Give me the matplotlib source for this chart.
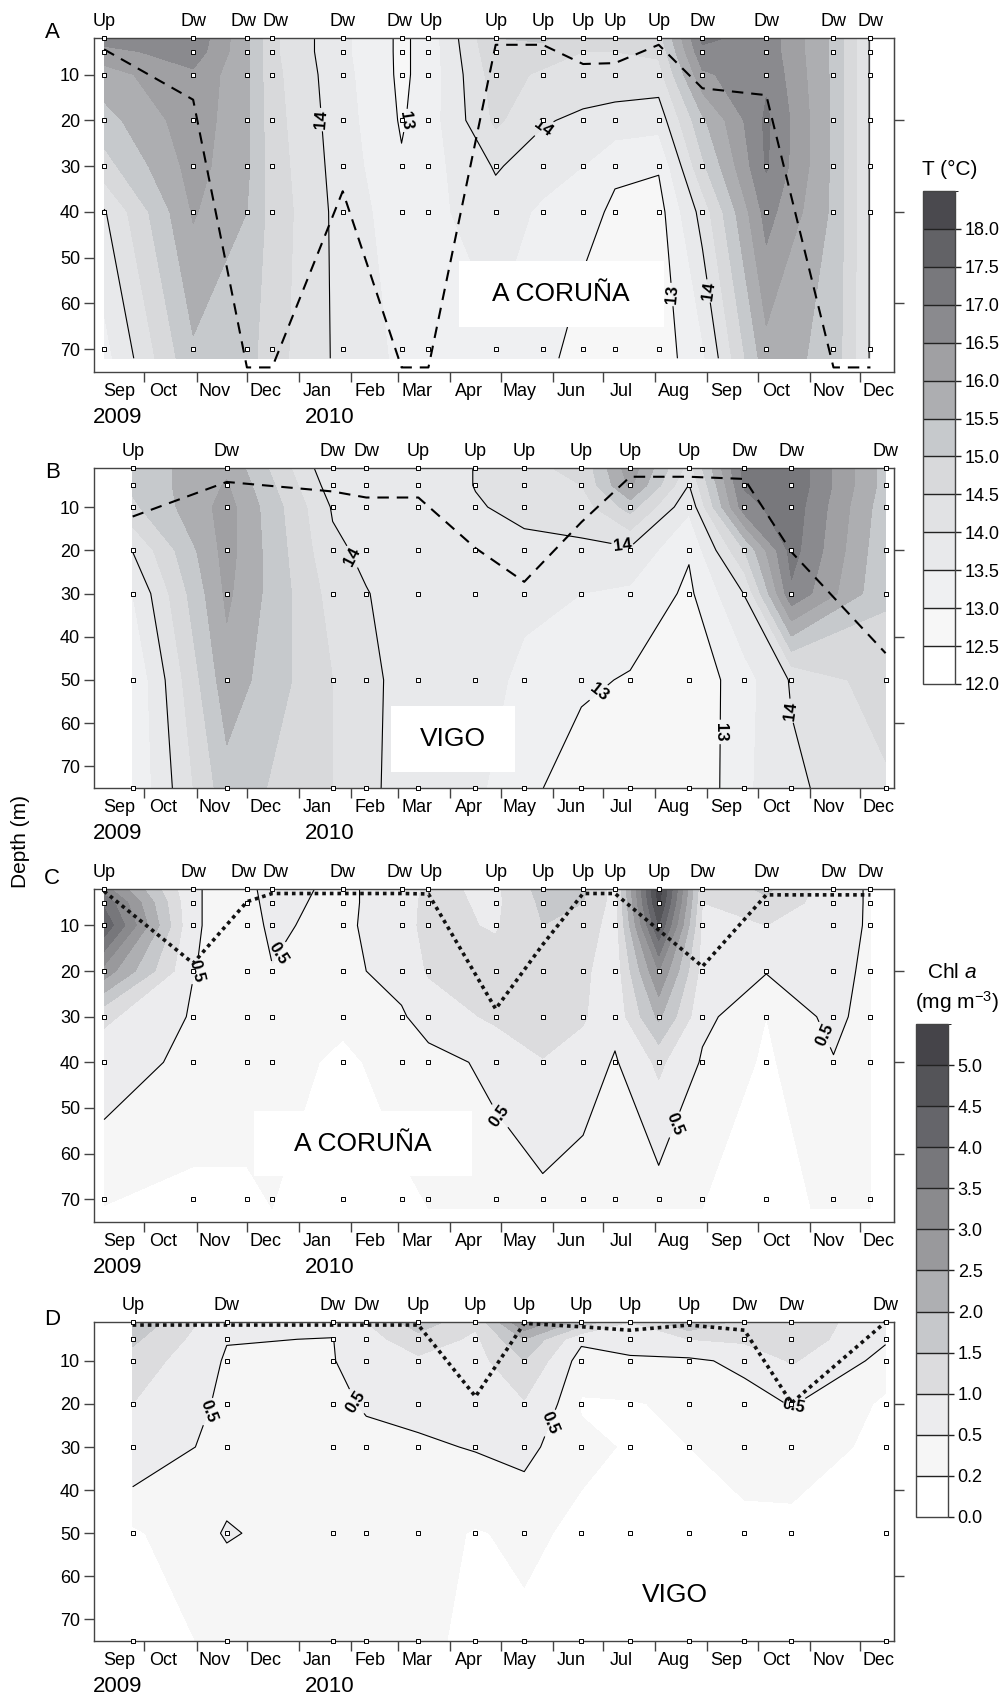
import numpy as np
import matplotlib
matplotlib.use("Agg")
import matplotlib as mpl
import matplotlib.pyplot as plt
from matplotlib.colors import ListedColormap, BoundaryNorm
from matplotlib.patches import Rectangle

plt.rcParams['font.family'] = ['Liberation Sans', 'DejaVu Sans']
plt.rcParams['mathtext.fontset'] = 'custom'
plt.rcParams['mathtext.rm'] = 'Liberation Sans'
plt.rcParams['mathtext.it'] = 'Liberation Sans:italic'

# --- sampling dates and wind regime ---
coruna_dates = ['2009-09-07', '2009-10-30', '2009-12-01', '2009-12-16', '2010-01-27', '2010-03-03',
                '2010-03-19', '2010-04-28', '2010-05-26', '2010-06-19', '2010-07-08', '2010-08-03',
                '2010-08-29', '2010-10-06', '2010-11-15', '2010-12-07']
coruna_wind = ['Up', 'Dw', 'Dw', 'Dw', 'Dw', 'Dw', 'Up', 'Up', 'Up', 'Up', 'Up', 'Up', 'Dw', 'Dw', 'Dw', 'Dw']
vigo_dates = ['2009-09-24', '2009-11-19', '2010-01-21', '2010-02-10', '2010-03-13', '2010-04-16',
              '2010-05-15', '2010-06-18', '2010-07-17', '2010-08-21', '2010-09-23', '2010-10-21',
              '2010-12-16']
vigo_wind = ['Up', 'Dw', 'Dw', 'Dw', 'Up', 'Up', 'Up', 'Up', 'Up', 'Up', 'Dw', 'Dw', 'Dw']

# --- depths (m) ---
coruna_grid_depth = [2, 5, 10, 20, 30, 40, 72]
coruna_sample_depth = [2, 5, 10, 20, 30, 40, 70]
vigo_depth = [1, 5, 10, 20, 30, 50, 75]

# --- temperature (deg C), one row per sampling date, columns = depths ---
temp_coruna = [
    [16.8, 16.3, 15.8, 15.3, 14.8, 13.95, 13.3],
    [16.9, 16.8, 16.4, 16.3, 16.2, 16.05, 15.4],
    [15.6, 15.6, 15.6, 15.6, 15.6, 15.5, 15.2],
    [14.6, 14.6, 14.65, 14.7, 14.75, 14.8, 14.7],
    [13.6, 13.6, 13.65, 13.7, 13.75, 13.8, 13.85],
    [12.9, 12.9, 12.9, 12.95, 13.05, 13.2, 13.4],
    [13.2, 13.2, 13.2, 13.25, 13.3, 13.35, 13.4],
    [15.0, 14.9, 14.75, 14.6, 14.05, 13.8, 13.4],
    [15.1, 14.8, 14.4, 14.05, 13.75, 13.4, 13.2],
    [14.6, 14.5, 14.3, 13.9, 13.5, 13.2, 12.7],
    [14.6, 14.5, 14.3, 13.8, 13.1, 12.9, 12.7],
    [14.8, 14.6, 14.3, 13.7, 13.05, 12.8, 12.7],
    [17.1, 16.9, 16.4, 15.4, 14.9, 14.2, 13.4],
    [16.8, 16.8, 16.9, 17.1, 17.05, 16.7, 15.8],
    [15.4, 15.4, 15.4, 15.4, 15.4, 15.4, 15.3],
    [13.95, 13.95, 13.95, 13.95, 13.95, 13.95, 13.95],
]
temp_vigo = [
    [15.2, 15.1, 14.9, 14.02, 13.5, 13.05, 13.05],
    [15.9, 16.05, 16.2, 16.2, 16.1, 15.8, 15.3],
    [13.6, 13.75, 13.95, 14.1, 14.3, 14.5, 14.5],
    [13.7, 13.7, 13.75, 13.9, 14.02, 14.15, 14.1],
    [13.6, 13.6, 13.7, 13.75, 13.75, 13.7, 13.75],
    [14.02, 14.02, 13.95, 13.8, 13.75, 13.7, 13.6],
    [14.4, 14.35, 14.15, 13.85, 13.6, 13.4, 13.15],
    [14.6, 14.5, 14.25, 13.9, 13.5, 13.1, 12.7],
    [16.3, 16.1, 15.2, 13.9, 13.4, 12.95, 12.7],
    [14.3, 13.98, 13.6, 13.05, 12.9, 12.6, 12.5],
    [17.2, 17.05, 16.8, 15.0, 14.02, 13.3, 13.4],
    [17.4, 17.4, 17.3, 17.2, 16.9, 14.05, 13.9],
    [15.3, 15.3, 15.2, 15.1, 15.05, 14.8, 14.4],
]

# --- chlorophyll a (mg m-3) ---
chl_coruna = [
    [3.2, 3.9, 4.4, 2.8, 1.1, 0.7, 0.19],
    [0.52, 0.52, 0.52, 0.51, 0.45, 0.4, 0.12],
    [0.4, 0.4, 0.4, 0.35, 0.3, 0.25, 0.18],
    [0.65, 0.6, 0.55, 0.49, 0.35, 0.3, 0.2],
    [0.4, 0.4, 0.4, 0.4, 0.25, 0.15, 0.15],
    [0.75, 0.75, 0.8, 0.65, 0.45, 0.3, 0.15],
    [1.1, 1.15, 1.15, 1.05, 0.7, 0.35, 0.2],
    [0.9, 0.9, 0.95, 1.2, 1.1, 0.6, 0.3],
    [1.7, 1.6, 1.5, 1.25, 1.2, 0.98, 0.35],
    [1.6, 1.5, 1.3, 1.1, 1.05, 0.8, 0.2],
    [0.8, 0.8, 0.75, 0.7, 0.65, 0.45, 0.2],
    [5.3, 5.1, 4.5, 3.0, 2.1, 1.1, 0.25],
    [1.1, 1.0, 0.9, 0.8, 0.6, 0.45, 0.2],
    [1.6, 1.4, 1.0, 0.52, 0.2, 0.15, 0.1],
    [0.7, 0.7, 0.68, 0.65, 0.6, 0.48, 0.25],
    [0.45, 0.45, 0.45, 0.4, 0.35, 0.3, 0.25],
]
chl_vigo = [
    [1.9, 1.6, 1.3, 1.0, 0.8, 0.15, 0.1],
    [0.6, 0.52, 0.45, 0.4, 0.35, 0.525, 0.25],
    [0.6, 0.49, 0.48, 0.45, 0.42, 0.35, 0.3],
    [1.0, 0.8, 0.7, 0.52, 0.45, 0.3, 0.25],
    [1.8, 1.3, 0.9, 0.6, 0.45, 0.3, 0.25],
    [1.1, 0.9, 0.8, 0.65, 0.52, 0.18, 0.15],
    [3.0, 2.0, 1.5, 0.95, 0.6, 0.25, 0.15],
    [1.8, 0.6, 0.3, 0.18, 0.25, 0.15, 0.1],
    [1.0, 0.8, 0.4, 0.18, 0.18, 0.15, 0.1],
    [2.0, 1.0, 0.42, 0.25, 0.2, 0.15, 0.1],
    [1.3, 1.1, 0.6, 0.35, 0.28, 0.15, 0.1],
    [1.4, 1.3, 1.05, 0.52, 0.35, 0.12, 0.1],
    [0.6, 0.55, 0.35, 0.15, 0.12, 0.1, 0.1],
]

# --- line depths (m): dashed in T panels, dotted in Chl panels ---
mld_coruna_t = [4.5, 15.5, 74, 74, 35.5, 74, 74, 3.5, 3.5, 7.7, 7.5, 3.5, 13, 14.5, 74, 74]
mld_vigo_t = [12.2, 4.2, 6.4, 7.8, 7.8, 19.5, 27.3, 13.5, 3.0, 3.0, 3.5, 20.4, 43.8]
dcm_coruna = [2.5, 18.3, 4.8, 3.0, 3.0, 3.0, 3.1, 28.3, 14.2, 3.0, 3.0, 11, 19, 3.3, 3.3, 3.3]
dcm_vigo = [1.7, 1.7, 1.7, 1.7, 1.7, 18.3, 1.3, 2.1, 2.9, 1.7, 2.9, 19.8, 1.0]

# --- where the isoline labels sit (days since 1 Sep 2009, depth) ---
label_spots_a = [(130, 20), (185, 20), (268, 22), (346, 58), (371, 57)]
label_spots_b = [(156, 21), (315, 18), (308, 57), (369, 62), (418, 57)]
label_spots_c = [(61, 20), (124, 19.5), (237, 53), (348, 54), (422, 36)]
label_spots_d = [(73, 22.6), (156, 19.5), (290, 27.7), (419, 21.7)]

# --- colour scales ---
t_bounds = np.arange(12.0, 18.51, 0.5)
t_ticks = np.arange(12.0, 18.01, 0.5)
t_colors = ['#ffffff', '#f7f7f7', '#eff0f2', '#e8e9eb', '#e1e2e4', '#d8d9db', '#c6c9cc',
            '#adaeb1', '#a0a0a3', '#8a8a8e', '#78787c', '#626266', '#4a494e']
chl_bounds = [0, 0.2, 0.5, 1.0, 1.5, 2.0, 2.5, 3.0, 3.5, 4.0, 4.5, 5.0, 5.5]
chl_ticks = [0, 0.2, 0.5, 1.0, 1.5, 2.0, 2.5, 3.0, 3.5, 4.0, 4.5, 5.0]
chl_colors = ['#ffffff', '#f6f6f6', '#ececee', '#dcdcde', '#c6c8cb', '#aeafb2', '#99999c',
              '#8a8a8d', '#77777b', '#65656a', '#545458', '#454449']

origin = np.datetime64('2009-09-01')
month_starts = np.arange(np.datetime64('2009-09'), np.datetime64('2011-01'), dtype='datetime64[M]')
month_names = ['Sep', 'Oct', 'Nov', 'Dec', 'Jan', 'Feb', 'Mar', 'Apr', 'May', 'Jun', 'Jul', 'Aug',
               'Sep', 'Oct', 'Nov', 'Dec']
year_labels = ['2009', '2010']
year_label_dates = ['2009-09-15', '2010-01-19']
SPINE = '#444444'


def to_days(dates):
    return (np.array(dates, dtype='datetime64[D]') - origin).astype(float)


def spread(pos, min_gap=19.0):
    # nudge neighbouring Up/Dw labels apart so they do not touch
    pos = list(pos)
    for i in range(len(pos) - 1):
        gap = pos[i + 1] - pos[i]
        if gap < min_gap:
            shift = (min_gap - gap) / 2
            pos[i] -= shift
            pos[i + 1] += shift
    return pos


def draw_panel(ax, dates, grid_depth, sample_depth, values, bounds, colors, line_levels,
               spots, line_depth, line_style, wind, ytop):
    days = to_days(dates)
    X, Y = np.meshgrid(days, grid_depth)
    Z = np.array(values).T
    ax.contourf(X, Y, Z, levels=bounds, colors=colors, zorder=1)
    cs = ax.contour(X, Y, Z, levels=line_levels, colors='black', linewidths=0.8, zorder=2)
    labels = ax.clabel(cs, fmt='%g', fontsize=12, inline=True, inline_spacing=3, manual=spots)
    for t in labels:
        t.set_fontweight('bold')

    if line_style == 'dashed':
        ax.plot(days, line_depth, color='black', lw=1.5, ls=(0, (5.5, 3.8)), zorder=4, clip_on=False)
    else:
        ax.plot(days, line_depth, color='#111111', lw=2.6, ls=(0, (1, 1.1)),
                dash_capstyle='butt', zorder=4, clip_on=False)

    SX, SY = np.meshgrid(days, sample_depth)
    ax.plot(SX.ravel(), SY.ravel(), 's', ms=2.8, mfc='white', mec='black', mew=0.7,
            zorder=5, clip_on=False)

    for d, w in zip(spread(days), wind):
        ax.annotate(w, xy=(d, 1), xycoords=ax.get_xaxis_transform(), xytext=(0, 12),
                    textcoords='offset points', ha='center', va='center', fontsize=13,
                    annotation_clip=False)

    ax.set_xlim(0, 476)
    ax.set_ylim(75, ytop)
    ax.set_yticks([10, 20, 30, 40, 50, 60, 70])
    ax.tick_params(axis='y', direction='out', length=7, width=1, color=SPINE, labelsize=13, pad=3)

    ticks = (month_starts.astype('datetime64[D]') - origin).astype(float)
    ax.set_xticks(ticks[1:])
    ax.set_xticklabels([])
    label_pos = ((month_starts.astype('datetime64[D]') + 11) - origin).astype(float)
    label_pos[0] = 15  # first label kept clear of the left axis
    ax.set_xticks(label_pos, minor=True)
    ax.set_xticklabels(month_names, minor=True)
    ax.tick_params(axis='x', which='major', direction='out', length=7, width=1, color=SPINE)
    ax.tick_params(axis='x', which='minor', length=0, labelsize=13, pad=8)

    for yl, yd in zip(year_labels, year_label_dates):
        ax.annotate(yl, xy=(to_days([yd])[0], 0), xycoords=ax.get_xaxis_transform(),
                    xytext=(0, -33), textcoords='offset points', ha='center', va='center',
                    fontsize=16, annotation_clip=False)

    sec = ax.secondary_yaxis('right')
    sec.set_yticks([20, 40, 60])
    sec.set_yticklabels([])
    sec.tick_params(direction='out', length=7, width=1, color=SPINE)
    sec.spines['right'].set_color(SPINE)
    for s in ax.spines.values():
        s.set_color(SPINE)
        s.set_linewidth(1.0)


def site_box(ax, x0, y0, w, h, name):
    ax.add_patch(Rectangle((x0, y0), w, h, transform=ax.transAxes, facecolor='white',
                           edgecolor='none', zorder=6))
    ax.text(x0 + w / 2, y0 + h / 2, name, transform=ax.transAxes, ha='center', va='center',
            fontsize=19, zorder=7)


fig = plt.figure(figsize=(10.02, 17.01), dpi=100)
axA = fig.add_axes([0.0938, 0.7813, 0.7984, 0.1964])
axB = fig.add_axes([0.0938, 0.5367, 0.7984, 0.1881])
axC = fig.add_axes([0.0938, 0.2816, 0.7984, 0.1958])
axD = fig.add_axes([0.0938, 0.0353, 0.7984, 0.1875])

draw_panel(axA, coruna_dates, coruna_grid_depth, coruna_sample_depth, temp_coruna, t_bounds,
           t_colors, [13, 14], label_spots_a, mld_coruna_t, 'dashed', coruna_wind, 2)
draw_panel(axB, vigo_dates, vigo_depth, vigo_depth, temp_vigo, t_bounds, t_colors, [13, 14],
           label_spots_b, mld_vigo_t, 'dashed', vigo_wind, 1)
draw_panel(axC, coruna_dates, coruna_grid_depth, coruna_sample_depth, chl_coruna, chl_bounds,
           chl_colors, [0.5], label_spots_c, dcm_coruna, 'dotted', coruna_wind, 2)
draw_panel(axD, vigo_dates, vigo_depth, vigo_depth, chl_vigo, chl_bounds, chl_colors, [0.5],
           label_spots_d, dcm_vigo, 'dotted', vigo_wind, 1)

site_box(axA, 0.456, 0.135, 0.256, 0.197, 'A CORUÑA')
site_box(axB, 0.371, 0.05, 0.155, 0.206, 'VIGO')
site_box(axC, 0.2, 0.138, 0.273, 0.195, 'A CORUÑA')
axD.text(0.726, 0.144, 'VIGO', transform=axD.transAxes, ha='center', va='center', fontsize=19, zorder=7)

for lab, y in zip(['A', 'B', 'C', 'D'], [0.9806, 0.7225, 0.4838, 0.224]):
    fig.text(0.052, y, lab, fontsize=16, ha='center', va='center')
fig.text(0.02, 0.505, 'Depth (m)', rotation=90, fontsize=15, ha='center', va='center')


# --- colour bars ---
def colour_bar(rect, bounds, colors, ticks):
    cax = fig.add_axes(rect)
    cmap = ListedColormap(colors)
    norm = BoundaryNorm(bounds, cmap.N)
    sm = mpl.cm.ScalarMappable(norm=norm, cmap=cmap)
    cb = fig.colorbar(sm, cax=cax, boundaries=bounds, spacing='uniform', ticks=ticks,
                      drawedges=True)
    cb.ax.set_yticklabels([f'{v:.1f}' for v in ticks])
    cb.outline.set_edgecolor(SPINE)
    cb.outline.set_linewidth(1.0)
    cb.dividers.set_color('#222222')
    cb.dividers.set_linewidth(1.0)
    cb.ax.tick_params(length=4, width=1, color='#222222', labelsize=13, pad=3)
    return cb


colour_bar([0.9212, 0.5979, 0.0319, 0.2898], t_bounds, t_colors, t_ticks)
colour_bar([0.9142, 0.1082, 0.0319, 0.2898], chl_bounds, chl_colors, chl_ticks)
fig.text(0.948, 0.9001, 'T (°C)', fontsize=15, ha='center', va='center')
fig.text(0.950, 0.428, 'Chl $a$', fontsize=15, ha='center', va='center')
fig.text(0.955, 0.411, '(mg m$^{-3}$)', fontsize=15, ha='center', va='center')

fig.savefig('out.png', dpi=100)
